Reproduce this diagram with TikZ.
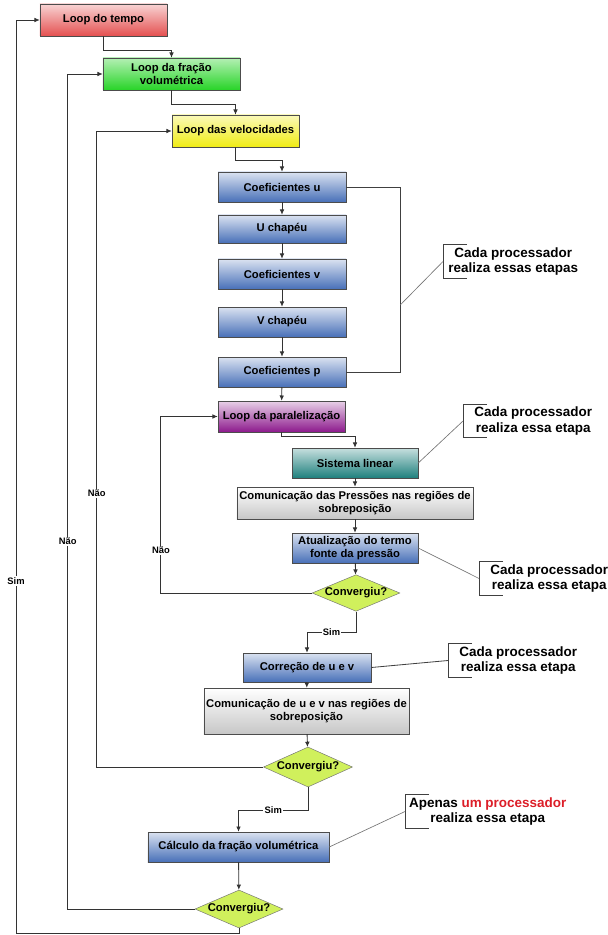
\documentclass[tikz,border=0pt]{standalone}
\usepackage{fontspec}
\setmainfont{Liberation Sans}
\usetikzlibrary{arrows.meta,shapes.geometric}
\definecolor{vermelho}{RGB}{228,80,80}
\definecolor{verde}{RGB}{40,212,40}
\definecolor{amarelo}{RGB}{240,236,20}
\definecolor{azul}{RGB}{72,112,184}
\definecolor{roxo}{RGB}{140,25,140}
\definecolor{ciano}{RGB}{30,128,125}
\definecolor{limao}{RGB}{208,240,92}
\definecolor{vermelhot}{RGB}{220,30,40}
\begin{document}
\begin{tikzpicture}[x=0.03cm,y=-0.03cm,font=\bfseries\fontsize{9.6}{11.2}\selectfont,align=center,
  bx/.style={draw=black!70,inner sep=1pt,minimum width=3.84cm,minimum height=0.9cm},
  tmp/.style={bx,top color=vermelho!25,bottom color=vermelho,minimum width=3.81cm,minimum height=0.96cm},
  frc/.style={bx,top color=verde!35,bottom color=verde,minimum width=4.11cm,minimum height=0.96cm},
  vel/.style={bx,top color=amarelo!30,bottom color=amarelo,minimum width=3.81cm,minimum height=0.96cm},
  etp/.style={bx,top color=azul!20,bottom color=azul},
  par/.style={bx,top color=roxo!20,bottom color=roxo,minimum width=3.81cm,minimum height=0.93cm},
  sis/.style={bx,top color=ciano!25,bottom color=ciano,minimum width=3.78cm},
  com/.style={bx,top color=white,bottom color=black!22},
  dec/.style={diamond,draw=black!55,fill=limao,aspect=2.4,inner sep=0pt,minimum width=2.61cm,minimum height=1.08cm},
  fl/.style={draw=black!80,line width=0.75pt,-{Latex[length=4.5pt,width=4pt]}},
  ln/.style={draw=black!75,line width=0.7pt},
  cl/.style={draw=black!55,line width=0.55pt},
  lbl/.style={fill=white,inner sep=1pt,font=\bfseries\fontsize{8}{9}\selectfont},
  nota/.style={font=\bfseries\fontsize{11.5}{13.5}\selectfont,anchor=west,minimum width=4.2cm,inner xsep=2pt,inner ysep=2pt}]
  \useasboundingbox (0,0) rectangle (607,935);
  % laços externos
  \node[tmp] (tempo) at (103.5,20){Loop do tempo};
  \node[frc] (fracao) at (171.5,74){Loop da fração\\volumétrica};
  \node[vel] (veloc) at (235.5,131){Loop das velocidades};
  % etapas de cada processador
  \node[etp] (coefu) at (282,187){Coeficientes u};
  \node[etp,minimum height=0.84cm] (uchap) at (282,229){U chapéu};
  \node[etp] (coefv) at (282,274){Coeficientes v};
  \node[etp] (vchap) at (282,322){V chapéu};
  \node[etp] (coefp) at (282,372){Coeficientes p};
  \node[par] (paral) at (281.5,416.5){Loop da paralelização};
  \node[sis] (sist) at (355,463){Sistema linear};
  \node[com,minimum width=7.08cm,minimum height=0.96cm] (compr) at (355,503){Comunicação das Pressões nas regiões de\\sobreposição};
  \node[etp,minimum width=3.78cm] (atual) at (355,548){Atualização do termo\\fonte da pressão};
  \node[dec] (conv1) at (356,593){Convergiu?};
  \node[etp,minimum height=0.87cm] (corr) at (307,667.5){Correção de u e v};
  \node[com,minimum width=6.15cm,minimum height=1.38cm] (comuv) at (306.5,711){Comunicação de u e v nas regiões de\\sobreposição};
  \node[dec,minimum width=2.67cm,minimum height=1.2cm] (conv2) at (308,767){Convergiu?};
  \node[etp,minimum width=5.43cm] (calc) at (238.5,847){Cálculo da fração volumétrica};
  \node[dec,minimum width=2.64cm,minimum height=1.14cm] (conv3) at (239,909){Convergiu?};
  % notas
  \node[nota] (nota1) at (443,261.5){Cada processador\\realiza essas etapas};
  \node[nota] (nota2) at (463,421){Cada processador\\realiza essa etapa};
  \node[nota] (nota3) at (479,578.5){Cada processador\\realiza essa etapa};
  \node[nota] (nota4) at (448,660.5){Cada processador\\realiza essa etapa};
  \node[nota,minimum width=4.95cm] (nota5) at (405,811.5){Apenas \textcolor{vermelhot}{um processador}\\realiza essa etapa};
  \foreach \n in {nota1,nota2,nota3,nota4,nota5}
    \draw[ln] (\n.north west) ++(24,0) -| (\n.south west) -- ++(24,0);
  % fluxo
  \draw[fl] (tempo.south) -- ++(0,14) -| (fracao.north);
  \draw[fl] (fracao.south) -- ++(0,14) -| (veloc.north);
  \draw[fl] (veloc.south) -- ++(0,13) -| (coefu.north);
  \draw[fl] (coefu) -- (uchap);
  \draw[fl] (uchap) -- (coefv);
  \draw[fl] (coefv) -- (vchap);
  \draw[fl] (vchap) -- (coefp);
  \draw[fl] (coefp) -- (paral);
  \draw[fl] (paral.south) -- ++(0,4) -| (sist.north);
  \draw[fl] (sist) -- (compr);
  \draw[fl] (compr) -- (atual);
  \draw[fl] (atual) -- (conv1);
  \draw[fl] (conv1.south) -- ++(0,21) -| node[lbl,pos=0.25]{Sim} (corr.north);
  \draw[fl] (conv1.west) -- ++(-151,0) |- node[lbl,pos=0.12]{Não} (paral.west);
  \draw[fl] (corr) -- (comuv);
  \draw[fl] (comuv) -- (conv2);
  \draw[fl] (conv2.south) -- ++(0,23) -| node[lbl,pos=0.25]{Sim} (calc.north);
  \draw[fl] (conv2.west) -- ++(-166.5,0) |- node[lbl,pos=0.215]{Não} (veloc.west);
  \draw[fl] (calc) -- (conv3);
  \draw[fl] (conv3.west) -- ++(-127,0) |- node[lbl,pos=0.22]{Não} (fracao.west);
  \draw[fl] (conv3.south) |- ++(-223,5.5) |- node[lbl,pos=0.193]{Sim} (tempo.west);
  % chaves e chamadas
  \draw[ln] (coefu.east) -- ++(54,0) coordinate (cx) |- (coefp.east);
  \draw[cl] (cx) ++(0,118) -- (nota1.west);
  \draw[cl] (sist.east) -- (nota2.west);
  \draw[cl] (atual.east) -- (nota3.west);
  \draw[ln] (corr.east) -- (nota4.west);
  \draw[cl] (calc.east) -- (nota5.west);
\end{tikzpicture}
\end{document}
